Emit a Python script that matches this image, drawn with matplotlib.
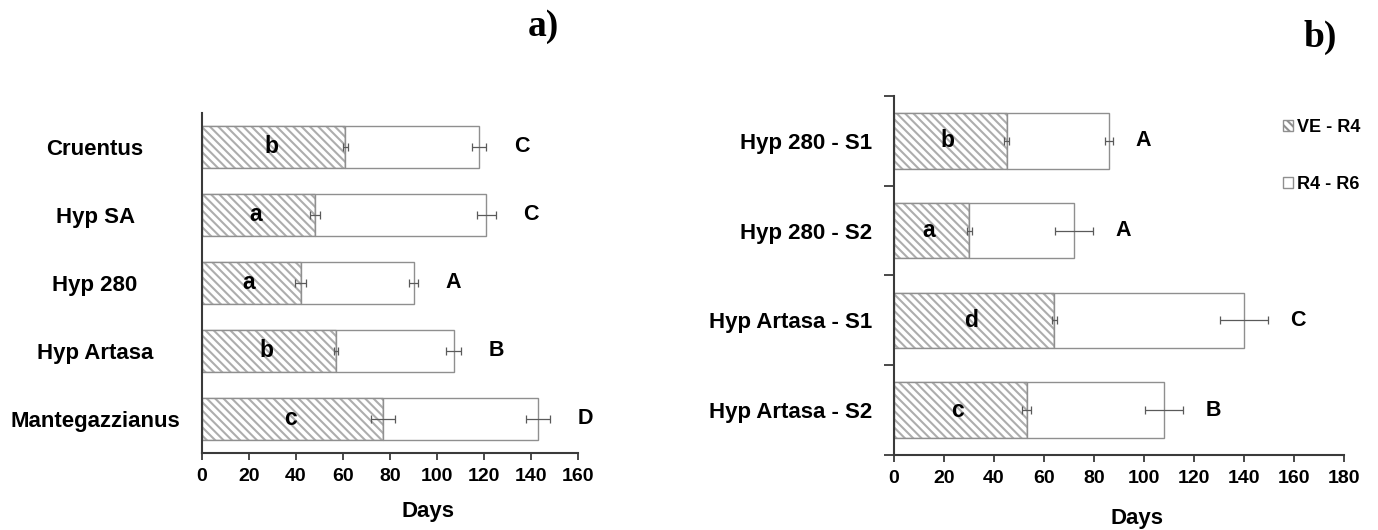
import matplotlib
matplotlib.use("Agg")
import matplotlib.pyplot as plt
from matplotlib.patches import Patch

plt.rcParams['font.family'] = ['Liberation Sans', 'DejaVu Sans']
plt.rcParams['font.weight'] = 'bold'
plt.rcParams['hatch.linewidth'] = 1.5

## Data
# panel a)
cult_a = ['Cruentus', 'Hyp SA', 'Hyp 280', 'Hyp Artasa', 'Mantegazzianus']
ve_r4_a = [61, 48, 42, 57, 77]
r4_r6_a = [57, 73, 48, 50, 66]
err_ve_a = [1.0, 2.0, 2.4, 1.0, 5.0]
err_tot_a = [3.0, 4.0, 2.0, 3.4, 5.0]
low_a = ['b', 'a', 'a', 'b', 'c']
up_a = ['C', 'C', 'A', 'B', 'D']

# panel b)
cult_b = ['Hyp 280 - S1', 'Hyp 280 - S2', 'Hyp Artasa - S1', 'Hyp Artasa - S2']
ve_r4_b = [45, 30, 64, 53]
r4_r6_b = [41, 42, 76, 55]
err_ve_b = [1.0, 1.0, 1.0, 1.9]
err_tot_b = [1.5, 7.7, 9.5, 7.6]
low_b = ['b', 'a', 'd', 'c']
up_b = ['A', 'A', 'C', 'B']

HATCH = '\\\\\\\\'
HATCH_C = '#adadad'
EDGE = '#8f8f8f'
ERRC = '#5a5a5a'
SPINE = '#3a3a3a'


def draw_panel(ax, cults, ve, r4, err_ve, err_tot, low, up, xmax, up_off):
    y = list(range(len(cults)))
    tot = [a + b for a, b in zip(ve, r4)]
    # hatched part first, then outlines on top
    ax.barh(y, ve, height=0.62, color='white', edgecolor=HATCH_C,
            linewidth=0.3, hatch=HATCH)
    ax.barh(y, ve, height=0.62, fill=False, edgecolor=EDGE, linewidth=1.0)
    ax.barh(y, r4, left=ve, height=0.62, color='white', edgecolor=EDGE,
            linewidth=1.0)
    ax.errorbar(ve, y, xerr=err_ve, fmt='none', ecolor=ERRC, elinewidth=0.9,
                capsize=3, capthick=0.9)
    ax.errorbar(tot, y, xerr=err_tot, fmt='none', ecolor=ERRC, elinewidth=0.9,
                capsize=3, capthick=0.9)
    for yi, v, t, e, lo, u in zip(y, ve, tot, err_tot, low, up):
        ax.text(v / 2 - 1, yi, lo, ha='center', va='center', fontsize=16.5,
                fontweight='bold')
        ax.text(t + e + up_off, yi, u, ha='center', va='center', fontsize=15.5,
                fontweight='bold')

    ax.set_xlim(0, xmax)
    ax.set_ylim(len(cults) - 0.5, -0.5)
    ax.set_xticks(range(0, xmax + 1, 20))
    ax.set_yticks(y)
    ax.set_yticklabels(cults, fontsize=16, fontweight='bold')
    for s in ('top', 'right'):
        ax.spines[s].set_visible(False)
    for s in ('left', 'bottom'):
        ax.spines[s].set_color(SPINE)
        ax.spines[s].set_linewidth(1.5)
    ax.tick_params(axis='x', direction='out', length=5, width=1.3,
                   color=SPINE, labelsize=14, pad=6)


fig = plt.figure(figsize=(13.78, 5.30), dpi=100)
ax1 = fig.add_axes([0.1466, 0.1453, 0.2729, 0.6421])
ax2 = fig.add_axes([0.6488, 0.1415, 0.3266, 0.6774])

draw_panel(ax1, cult_a, ve_r4_a, r4_r6_a, err_ve_a, err_tot_a, low_a, up_a,
           160, 15)
draw_panel(ax2, cult_b, ve_r4_b, r4_r6_b, err_ve_b, err_tot_b, low_b, up_b,
           180, 12)

# left panel: labels centred in a column, no y ticks
ax1.tick_params(axis='y', length=0, pad=77)
for lab in ax1.get_yticklabels():
    lab.set_ha('center')
# right panel: ticks between categories, labels right aligned
ax2.tick_params(axis='y', which='major', length=0, pad=16)
ax2.set_yticks([i - 0.5 for i in range(len(cult_b) + 1)], minor=True)
ax2.tick_params(axis='y', which='minor', direction='out', length=7,
                width=1.3, color=SPINE)

ax1.set_xlabel('Days', fontsize=16, fontweight='bold')
ax1.xaxis.label.set_va('center')
ax1.xaxis.set_label_coords(0.6, -0.173)
ax2.set_xlabel('Days', fontsize=16, fontweight='bold')
ax2.xaxis.label.set_va('center')
ax2.xaxis.set_label_coords(0.54, -0.178)

fig.text(543 / 1378, 1 - 27 / 530, 'a)', fontsize=27, fontweight='bold',
         family='Liberation Serif', ha='center', va='center')
fig.text(1320 / 1378, 1 - 37 / 530, 'b)', fontsize=27, fontweight='bold',
         family='Liberation Serif', ha='center', va='center')

handles = [Patch(facecolor='white', edgecolor=EDGE, hatch=HATCH, label='VE - R4'),
           Patch(facecolor='white', edgecolor=EDGE, label='R4 - R6')]
fig.legend(handles=handles, loc='upper left',
           bbox_to_anchor=(1283 / 1378, 1 - 119 / 530), frameon=False,
           handlelength=0.55, handleheight=0.55, handletextpad=0.25,
           labelspacing=2.2, borderpad=0, borderaxespad=0,
           prop={'size': 13, 'weight': 'bold'})

fig.savefig('out.png', dpi=100)
